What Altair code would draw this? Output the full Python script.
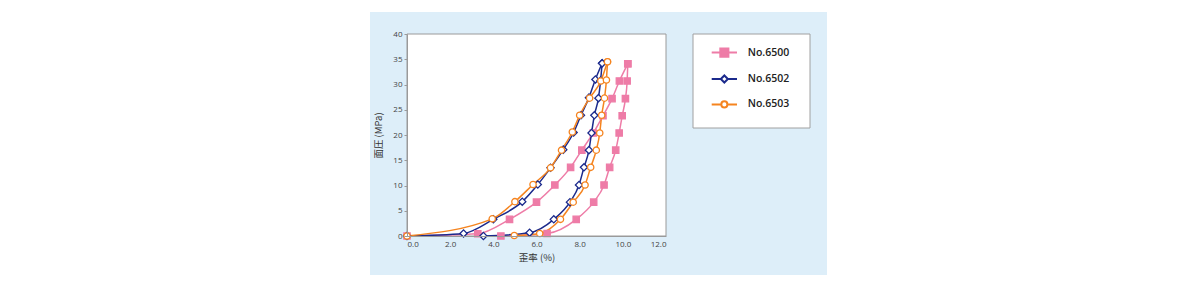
import altair as alt
import pandas as pd

# ---------------- data ----------------
series_names = ["No.6500", "No.6502", "No.6503"]
series_colors = ["#ee7ca7", "#1b2a8c", "#f5841f"]
series_fills = ["#ee7ca7", "#ffffff", "#ffffff"]

# No.6500 (pink, squares)
p_load_x = [0.0, 3.28, 4.75, 6.0, 6.85, 7.58, 8.1, 8.63, 9.08, 9.5, 9.84, 10.23]
p_load_y = [0.0, 0.45, 3.3, 6.7, 10.1, 13.6, 17.0, 20.4, 23.8, 27.2, 30.7, 34.1]
p_unload_x = [10.23, 10.2, 10.12, 9.97, 9.83, 9.67, 9.39, 9.13, 8.65, 7.84, 6.49, 4.35]
p_unload_y = [34.1, 30.7, 27.2, 23.8, 20.4, 17.0, 13.6, 10.1, 6.7, 3.3, 0.5, 0.0]

# No.6502 (navy, diamonds)
b_load_x = [0.0, 2.62, 4.0, 5.34, 6.06, 6.65, 7.24, 7.72, 8.06, 8.43, 8.73, 9.04]
b_load_y = [0.0, 0.5, 3.3, 6.8, 10.2, 13.5, 17.1, 20.5, 23.9, 27.4, 31.0, 34.2]
b_unload_x = [9.04, 8.97, 8.87, 8.68, 8.55, 8.43, 8.2, 7.97, 7.55, 6.8, 5.68, 3.54]
b_unload_y = [34.2, 30.8, 27.3, 23.9, 20.4, 17.0, 13.6, 10.1, 6.7, 3.3, 0.66, 0.0]

# No.6503 (orange, circles)
o_load_x = [0.0, 3.95, 5.0, 5.84, 6.65, 7.16, 7.66, 8.0, 8.46, 8.98, 9.29]
o_load_y = [0.0, 3.4, 6.8, 10.2, 13.5, 17.0, 20.6, 23.9, 27.3, 30.7, 34.5]
o_unload_x = [9.29, 9.24, 9.15, 9.02, 8.93, 8.77, 8.51, 8.25, 7.70, 7.11, 6.15, 4.97]
o_unload_y = [34.5, 30.9, 27.3, 23.9, 20.4, 17.0, 13.6, 10.1, 6.7, 3.3, 0.5, 0.1]

x_ticks = [0, 2, 4, 6, 8, 10, 12]
y_ticks = [0, 5, 10, 15, 20, 25, 30, 35, 40]

# ---------------- table ----------------
curves = {
    "No.6500": (p_load_x, p_load_y, p_unload_x, p_unload_y),
    "No.6502": (b_load_x, b_load_y, b_unload_x, b_unload_y),
    "No.6503": (o_load_x, o_load_y, o_unload_x, o_unload_y),
}
rows = []
for name, (lx, ly, ux, uy) in curves.items():
    for xv, yv in zip(lx, ly):
        rows.append({"series": name, "branch": "load", "strain": xv, "pressure": yv})
    for xv, yv in zip(ux, uy):
        rows.append({"series": name, "branch": "unload", "strain": xv, "pressure": yv})
df = pd.DataFrame(rows)

W, H = 259, 202
FONT = "Open Sans"
CJK = "Noto Sans CJK JP"

xscale = alt.Scale(domain=[0, 12], nice=False, zero=False)
yscale = alt.Scale(domain=[0, 40], nice=False)

xenc = alt.X("strain:Q", scale=xscale,
             axis=alt.Axis(values=x_ticks, format=".1f", title="歪率 (%)", ticks=False,
                           labelPadding=4, titlePadding=4, grid=False, zindex=1))
yenc = alt.Y("pressure:Q", scale=yscale,
             axis=alt.Axis(values=y_ticks, format="d", title="面圧 (MPa)", tickSize=3,
                           labelPadding=2, titlePadding=9, grid=False, zindex=1))

one = alt.Data(values=[{"k": 1}])

# decorative panel and boxes
panel = alt.Chart(one).mark_rect(fill="#ddeef9", stroke=None).encode(
    x=alt.value(-37), x2=alt.value(420), y=alt.value(-22), y2=alt.value(241))
frame = alt.Chart(one).mark_rect(fill="white", stroke="#9a9a9a", strokeWidth=1).encode(
    x=alt.value(0), x2=alt.value(W), y=alt.value(0), y2=alt.value(H))
legbox = alt.Chart(one).mark_rect(fill="white", stroke="#a0a0a0", strokeWidth=1).encode(
    x=alt.value(286), x2=alt.value(403), y=alt.value(0), y2=alt.value(94))

shapes = ["square", "diamond", "circle"]
sizes = [40, 52, 40]

line_layers = []
point_layers = []
for name, col, fil, shp, sz in zip(series_names, series_colors, series_fills, shapes, sizes):
    base = alt.Chart(df).transform_filter(alt.datum.series == name)
    line_layers.append(
        base.mark_line(color=col, strokeWidth=1.5, interpolate="monotone").encode(
            x=xenc, y=yenc, detail="branch:N")
    )
    point_layers.append(
        base.mark_point(shape=shp, size=sz, fill=fil, stroke=col, strokeWidth=1.3,
                        opacity=1, filled=False).encode(x=xenc, y=yenc)
    )

legend_paths = [
    "M-1,0H1M-0.32,-0.32H0.32V0.32H-0.32Z",
    "M-1,0H-0.28M0.28,0H1M-0.28,0L0,-0.28L0.28,0L0,0.28Z",
    "M-1,0H-0.24M0.24,0H1M-0.24,0A0.24,0.24,0,1,1,0.24,0A0.24,0.24,0,1,1,-0.24,0Z",
]
leg = alt.Legend(title=None, orient="none", legendX=303.35, legendY=4.6, padding=0,
                 rowPadding=3.4, symbolSize=640, symbolStrokeWidth=2, labelOffset=9.35,
                 labelFont=FONT, labelFontSize=10.5, labelFontWeight=600,
                 labelColor="#222222", zindex=1)
legend_df = pd.DataFrame({"series": series_names})
dummy = alt.Chart(legend_df).transform_filter("false").mark_point(opacity=1, strokeWidth=2).encode(
    stroke=alt.Stroke("series:N", scale=alt.Scale(domain=series_names, range=series_colors), legend=leg),
    fill=alt.Fill("series:N", scale=alt.Scale(domain=series_names, range=series_fills), legend=leg),
    shape=alt.Shape("series:N", scale=alt.Scale(domain=series_names, range=legend_paths), legend=leg),
)

chart = alt.layer(panel, frame, legbox, *line_layers, *point_layers, dummy).properties(
    width=W, height=H,
    padding={"left": 370, "top": 12, "right": 0, "bottom": 0},
    background="white",
).configure_view(stroke=None).configure_axis(
    domainColor="#9a9a9a", tickColor="#9a9a9a", labelFont=FONT, labelFontSize=8,
    labelColor="#444444", titleFont=CJK, titleFontSize=9.5, titleFontWeight="normal",
    titleColor="#333333",
)

chart.save("out.html", embed_options={"renderer": "svg", "actions": False})
